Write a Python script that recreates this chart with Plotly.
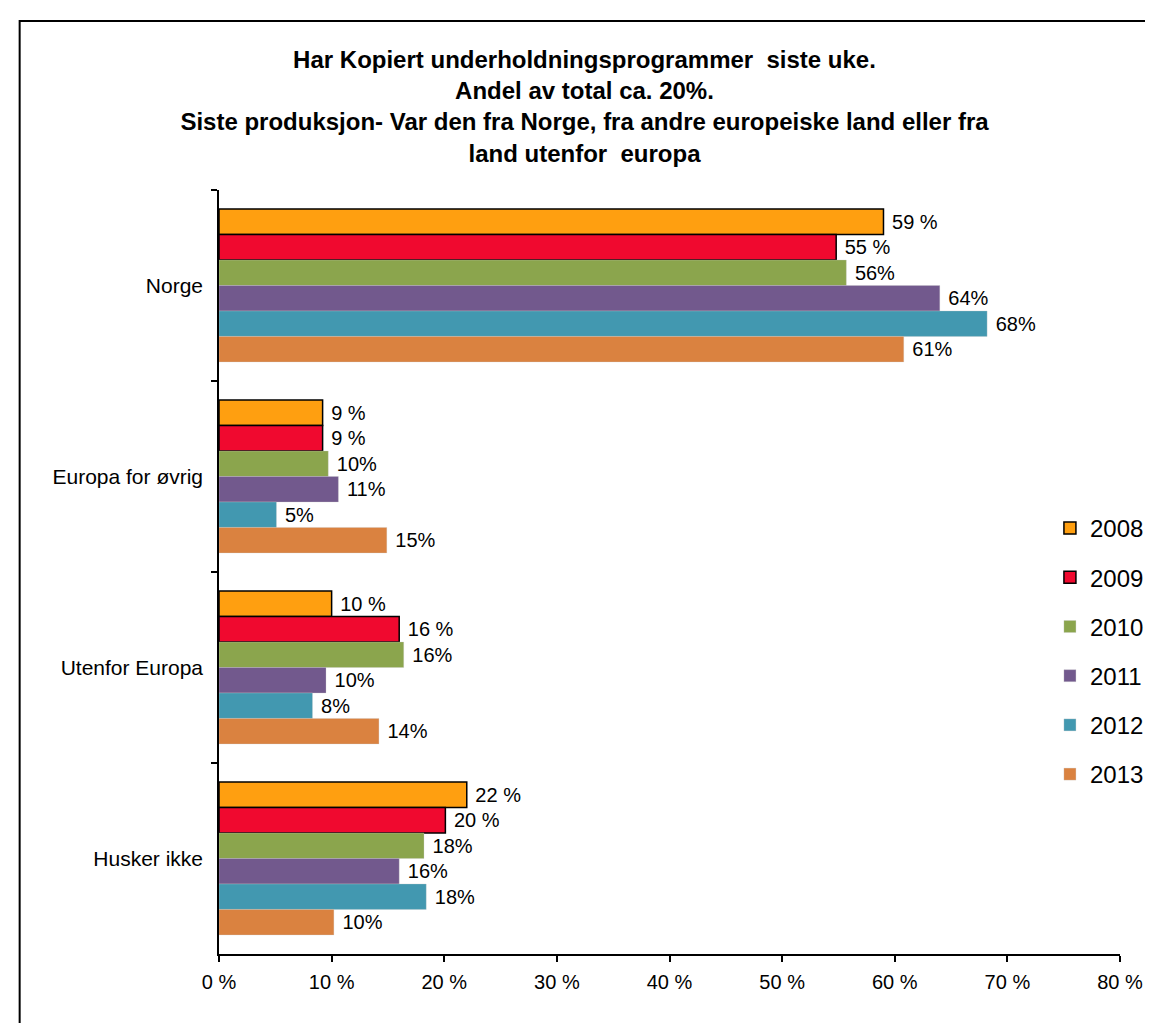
import plotly.graph_objects as go

categories = ["Norge", "Europa for øvrig", "Utenfor Europa", "Husker ikke"]
years = ["2008", "2009", "2010", "2011", "2012", "2013"]

v2008 = [59.0, 9.2, 10.0, 22.0]
v2009 = [54.8, 9.2, 16.0, 20.1]
v2010 = [55.7, 9.7, 16.4, 18.2]
v2011 = [64.0, 10.6, 9.5, 16.0]
v2012 = [68.2, 5.1, 8.3, 18.4]
v2013 = [60.8, 14.9, 14.2, 10.2]

l2008 = ["59 %", "9 %", "10 %", "22 %"]
l2009 = ["55 %", "9 %", "16 %", "20 %"]
l2010 = ["56%", "10%", "16%", "18%"]
l2011 = ["64%", "11%", "10%", "16%"]
l2012 = ["68%", "5%", "8%", "18%"]
l2013 = ["61%", "15%", "14%", "10%"]

x_tickvals = [0, 10, 20, 30, 40, 50, 60, 70, 80]
x_ticktext = ["0 %", "10 %", "20 %", "30 %", "40 %", "50 %", "60 %", "70 %", "80 %"]

series_values = [v2008, v2009, v2010, v2011, v2012, v2013]
series_labels = [l2008, l2009, l2010, l2011, l2012, l2013]
colors = ["#FF9F10", "#F0092F", "#8BA54D", "#72598D", "#4298B0", "#DA8240"]
outlined = [True, True, False, False, False, False]

FONT = "Liberation Sans, Arial, sans-serif"

fig = go.Figure()
for yr, vals, labs, col, ol in zip(years, series_values, series_labels, colors, outlined):
    fig.add_trace(go.Bar(
        name=yr,
        y=categories,
        x=vals,
        orientation="h",
        marker=dict(color=col,
                    line=dict(color="black" if ol else "rgba(200,200,200,0.6)",
                              width=1.5 if ol else 0.5)),
        text=["\u00a0" + t for t in labs],
        textposition="outside",
        textfont=dict(family=FONT, size=20, color="black"),
        cliponaxis=False,
        legendgroup=yr,
    ))

W, H = 1153, 1023
L, R, T, B = 211, 29, 182, 77
pw, ph = W - L - R, H - T - B

def px_x(x):
    return (x - L) / pw

def px_y(y):
    return (H - B - y) / ph

fig.update_layout(
    width=W, height=H,
    margin=dict(l=L, r=R, t=T, b=B, pad=0),
    paper_bgcolor="white", plot_bgcolor="white",
    barmode="group", bargap=0.2, bargroupgap=0,
    font=dict(family=FONT, color="black"),
    title=dict(
        text="<b>Har Kopiert underholdningsprogrammer  siste uke.<br>Andel av total ca. 20%.<br>"
             "Siste produksjon- Var den fra Norge, fra andre europeiske land eller fra<br>land utenfor  europa</b>",
        x=0.5, xref="container", xanchor="center",
        y=1 - 60 / H, yref="container", yanchor="top",
        font=dict(family=FONT, size=24, color="black"),
    ),
    xaxis=dict(
        range=[0, 80], tickvals=x_tickvals, ticktext=x_ticktext,
        showgrid=False, zeroline=False,
        showline=True, linecolor="black", linewidth=1.5,
        ticks="outside", ticklen=6, tickcolor="black", tickwidth=1.5,
        tickfont=dict(family=FONT, size=20, color="black"),
        ticklabelstandoff=3,
    ),
    yaxis=dict(
        autorange="reversed", showgrid=False, zeroline=False,
        showline=True, linecolor="black", linewidth=1.5,
        ticks="outside", ticklen=6, tickcolor="black", tickwidth=1.5,
        tickson="boundaries",
        tickfont=dict(family=FONT, size=21, color="black"),
        ticklabelstandoff=10,
    ),
    legend=dict(
        x=px_x(1053), y=px_y(498), xanchor="left", yanchor="top",
        traceorder="grouped", tracegroupgap=15,
        font=dict(family=FONT, size=24, color="black"),
        bgcolor="rgba(0,0,0,0)",
        itemwidth=30,
    ),
    shapes=[dict(
        type="rect", xref="paper", yref="paper",
        x0=px_x(9), x1=px_x(1170), y0=px_y(1040), y1=px_y(13),
        line=dict(color="black", width=2), fillcolor="rgba(0,0,0,0)",
        layer="below",
    )],
)

fig.write_html("out.html")
